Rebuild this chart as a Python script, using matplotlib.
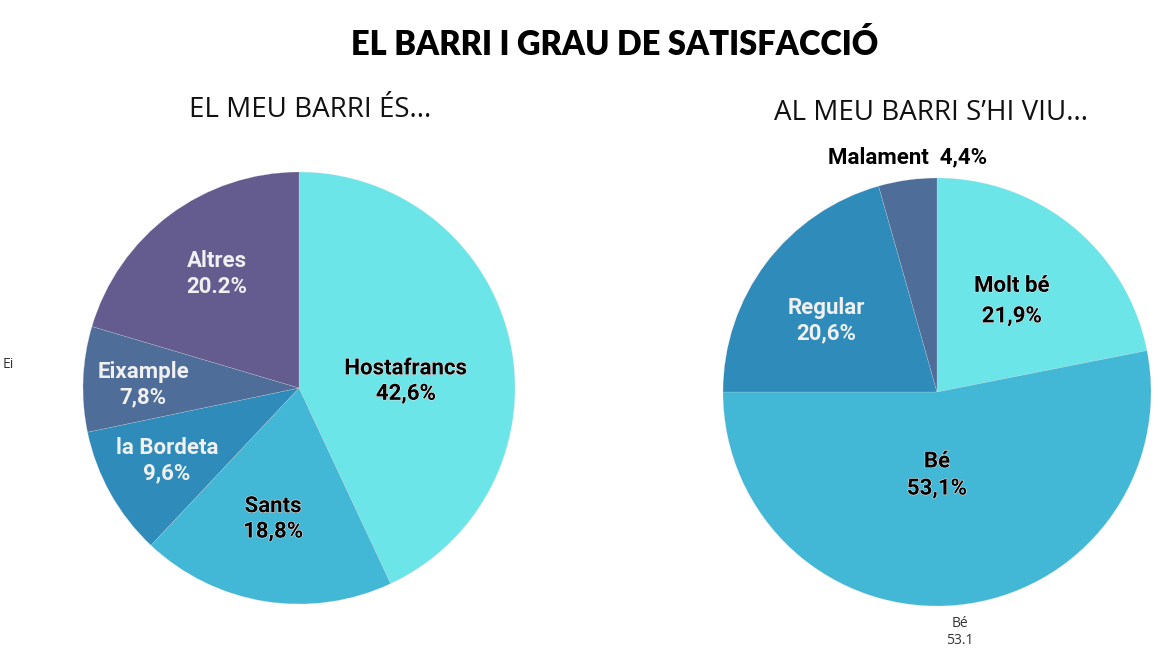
import matplotlib.pyplot as plt
import matplotlib.patheffects as pe

# left pie: "El meu barri és..."
barris = ['Hostafrancs', 'Sants', 'la Bordeta', 'Eixample', 'Altres']
barris_pct = [42.6, 18.8, 9.6, 7.8, 20.2]
barris_txt = ['42,6%', '18,8%', '9,6%', '7,8%', '20.2%']
barris_colors = ['#6ce5e8', '#42b8d6', '#2e8bba', '#4e6d98', '#645b8f']
barris_txtcol = ['black', 'black', '#f0f0f0', '#f0f0f0', '#f0f0f0']

# right pie: "Al meu barri s'hi viu..."
viu = ['Molt bé', 'Bé', 'Regular', 'Malament']
viu_pct = [21.9, 53.1, 20.6, 4.4]
viu_txt = ['21,9%', '53,1%', '20,6%', '4,4%']
viu_colors = ['#6ce5e8', '#42b8d6', '#2e8bba', '#4e6d98']
viu_txtcol = ['black', 'black', '#f0f0f0', 'black']

W, H = 1170, 658
fig = plt.figure(figsize=(W / 100, H / 100), dpi=100)
fig.patch.set_facecolor('white')


def pie_axes(cx, cy, r):
    ax = fig.add_axes([(cx - r) / W, (H - cy - r) / H, 2 * r / W, 2 * r / H])
    return ax


def fix(ax):
    ax.set_xlim(-1, 1)
    ax.set_ylim(-1, 1)
    ax.set_aspect('equal')
    ax.axis('off')


outline = [pe.withStroke(linewidth=0.8, foreground='#e8e8e8')]
edges = dict(edgecolor='#dddddd', linewidth=0.15)

ax1 = pie_axes(299, 388, 216)
ax1.pie(barris_pct, colors=barris_colors, startangle=90, counterclock=False,
        radius=1, wedgeprops=edges)
fix(ax1)
pos1 = [(0.495, 0.032), (-0.12, -0.606), (-0.611, -0.338), (-0.722, 0.014), (-0.38, 0.528)]
for (x, y), name, t, c in zip(pos1, barris, barris_txt, barris_txtcol):
    ax1.text(x, y, name + '\n' + t, ha='center', va='center', fontsize=16,
             fontweight='bold', family='Roboto', color=c, linespacing=1.2,
             path_effects=outline if c == 'black' else None)

ax2 = pie_axes(937, 392, 214)
ax2.pie(viu_pct, colors=viu_colors, startangle=90, counterclock=False,
        radius=1, wedgeprops=edges)
fix(ax2)
pos2 = [(0.35, 0.425), (0, -0.388), (-0.519, 0.332)]
spacing2 = [1.5, 1.3, 1.2]
for (x, y), name, t, c, ls in zip(pos2, viu[:3], viu_txt[:3], viu_txtcol[:3], spacing2):
    ax2.text(x, y, name + '\n' + t, ha='center', va='center', fontsize=16,
             fontweight='bold', family='Roboto', color=c, linespacing=ls,
             path_effects=outline if c == 'black' else None)
ax2.text(-0.136, 1.098, viu[3] + '  ' + viu_txt[3], ha='center', va='center',
         fontsize=16, fontweight='bold', family='Roboto', color='black')

fig.text(615 / W, 1 - 45 / H, 'EL BARRI I GRAU DE SATISFACCIÓ', ha='center', va='center',
         fontsize=23.5, fontweight='heavy', family='Lato', color='black')
fig.text(310 / W, 1 - 110 / H, 'EL MEU BARRI ÉS...', ha='center', va='center',
         fontsize=20, family='Open Sans', color='#111111')
fig.text(931 / W, 1 - 113 / H, 'AL MEU BARRI S’HI VIU...', ha='center', va='center',
         fontsize=20, family='Open Sans', color='#111111')

# stray labels left in the original export
fig.text(3 / W, 1 - 365 / H, 'Ei', ha='left', va='center', fontsize=10,
         family='Open Sans', color='#333333')
fig.text(960 / W, 1 - 632 / H, viu[1] + '\n' + str(viu_pct[1]), ha='center', va='center',
         fontsize=10, family='Open Sans', color='#333333', linespacing=1.15)

fig.savefig('out.png', dpi=100)
